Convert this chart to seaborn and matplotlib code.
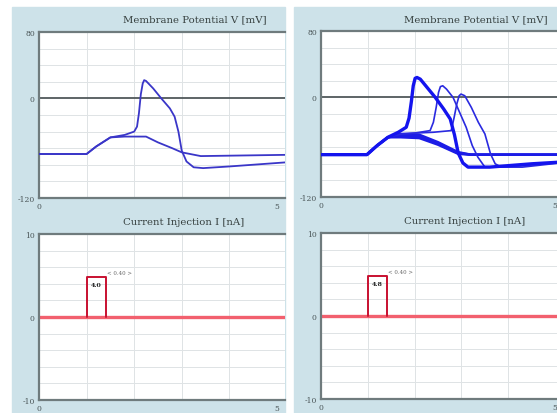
import matplotlib
matplotlib.use('Agg')
import matplotlib.pyplot as plt
import numpy as np
import pandas as pd
import seaborn as sns
from matplotlib.patches import Rectangle

# membrane potential traces, left panel (t in ms, V in mV)
l_spike_t = [0, 1.0, 1.2, 1.5, 1.8, 2.0, 2.06, 2.1, 2.14, 2.18, 2.21, 2.25, 2.4, 2.57, 2.75, 2.85, 2.93, 3.0, 3.1, 3.25, 3.45, 4.0, 5.2]
l_spike_v = [-67, -67, -58, -47, -44, -40, -34, -18, 5, 18, 22, 21, 12, 0, -12, -22, -40, -63, -76, -83, -84, -82, -77]
l_sub_t = [0, 1.0, 1.2, 1.5, 1.8, 2.25, 2.5, 2.8, 3.0, 3.4, 5.2]
l_sub_v = [-67, -67, -58, -47, -46, -46, -53, -60, -65, -69.5, -68]

# right panel: three spikes (A fastest) and a bundle of subthreshold traces
r_a_t = [0, 0.98, 1.2, 1.43, 1.65, 1.82, 1.88, 1.93, 1.97, 2.01, 2.05, 2.12, 2.44, 2.62, 2.76, 2.85, 2.93, 3.03, 3.14, 3.6, 4.5, 5.1]
r_a_v = [-69, -69, -58, -48, -42, -36, -25, -5, 14, 23, 24, 22, 0, -14, -26, -45, -67, -79, -84, -84, -80, -78]
r_b_t = [0, 0.98, 1.2, 1.43, 1.7, 2.0, 2.33, 2.4, 2.46, 2.51, 2.55, 2.6, 2.68, 2.82, 2.96, 3.1, 3.23, 3.35, 3.5, 3.9, 4.6, 5.1]
r_b_v = [-69, -69, -58, -48, -44, -43, -40, -30, -12, 6, 13, 14, 10, 0, -18, -36, -58, -72, -84, -84, -81, -78]
r_c_t = [0, 0.98, 1.2, 1.43, 1.7, 2.0, 2.4, 2.78, 2.84, 2.9, 2.95, 2.99, 3.07, 3.21, 3.36, 3.5, 3.62, 3.72, 3.85, 4.3, 5.1]
r_c_v = [-69, -69, -58, -48, -44, -43, -42, -40, -25, -8, 2, 4, 2, -12, -30, -44, -68, -80, -84, -84, -79]
r_sub_t = [0, 0.98, 1.2, 1.43, 1.7, 2.1, 2.5, 2.93, 3.2, 5.1]
r_sub_v = [
    [-69, -69, -58, -48, -44, -45, -54, -66, -69, -69],
    [-69, -69, -58, -48, -46, -47, -56, -67, -69, -69],
    [-69, -69, -58, -48, -48, -49, -57, -68, -69, -69],
]

# current injection pulse (nA)
pulse_start = 1.0
pulse_width = 0.40
pulse_amp = [4.8, 4.8]
pulse_label = ['4.0', '4.8']

W, H = 557, 414
BG = '#cde2e9'
SPINE = '#6f7b7d'
GRIDC = '#dfe3e5'

sns.set_style('white')
plt.rcParams['font.family'] = ['DejaVu Serif']

fig = plt.figure(figsize=(W / 100, H / 100), dpi=100)
fig.patches.append(Rectangle((12 / W, 0), (285 - 12) / W, 1 - 8 / H, transform=fig.transFigure, color=BG, zorder=-10))
fig.patches.append(Rectangle((294 / W, 0), (W - 294) / W, 1 - 8 / H, transform=fig.transFigure, color=BG, zorder=-10))


def make_ax(x0, y0, x1, y1):
    return fig.add_axes([x0 / W, 1 - y1 / H, (x1 - x0) / W, (y1 - y0) / H])


def style(ax, xmax, ylim, step, yticks):
    ax.set_facecolor('white')
    ax.set_xlim(0, xmax)
    ax.set_ylim(*ylim)
    ax.set_xticks(np.arange(0, xmax, 1.0), minor=True)
    ax.set_yticks(np.arange(ylim[0], ylim[1] + 0.01, step), minor=True)
    ax.grid(True, which='minor', color=GRIDC, lw=0.7)
    ax.set_yticks(yticks)
    ax.set_yticklabels([str(v) for v in yticks])
    ax.set_xticks([0, 5])
    ax.tick_params(axis='both', which='major', length=2, width=0.8, color=SPINE,
                   labelsize=5.5, labelcolor='#4a5557', pad=1)
    ax.tick_params(which='minor', length=0)
    for s in ['left', 'top', 'bottom']:
        ax.spines[s].set_color(SPINE)
        ax.spines[s].set_linewidth(1.6)
    ax.spines['right'].set_visible(False)
    ax.set_xlabel('')
    ax.set_ylabel('')


panels = [
    dict(vbox=(39, 33, 285, 199), ibox=(39, 235, 285, 401), xmax=5.17),
    dict(vbox=(321, 32, 557, 198), ibox=(321, 234, 557, 400), xmax=5.04),
]

for k, p in enumerate(panels):
    axv = make_ax(*p['vbox'])
    axi = make_ax(*p['ibox'])

    axv.axhline(0, color='#50585a', lw=1.3, zorder=2)
    if k == 0:
        sns.lineplot(x=l_sub_t, y=l_sub_v, ax=axv, color='#3a36c8', lw=1.3, sort=False, estimator=None, zorder=3)
        sns.lineplot(x=l_spike_t, y=l_spike_v, ax=axv, color='#3a36c8', lw=1.3, sort=False, estimator=None, zorder=3)
    else:
        for sv in r_sub_v:
            sns.lineplot(x=r_sub_t, y=sv, ax=axv, color='#1c1ce6', lw=1.8, sort=False, estimator=None, zorder=3)
        sns.lineplot(x=r_c_t, y=r_c_v, ax=axv, color='#2a2ae0', lw=1.2, sort=False, estimator=None, zorder=3)
        sns.lineplot(x=r_b_t, y=r_b_v, ax=axv, color='#2a2ae0', lw=1.2, sort=False, estimator=None, zorder=3)
        sns.lineplot(x=r_a_t, y=r_a_v, ax=axv, color='#1414ee', lw=2.4, sort=False, estimator=None, zorder=3)
    style(axv, p['xmax'], (-120, 80), 20, [80, 0, -120])

    # current trace: baseline and pulse
    axi.axhline(0, color='#f2606e', lw=2.4, zorder=2)
    pt = [pulse_start, pulse_start, pulse_start + pulse_width, pulse_start + pulse_width]
    pi = [0, pulse_amp[k], pulse_amp[k], 0]
    sns.lineplot(x=pt, y=pi, ax=axi, color='#c81030', lw=1.4, sort=False, estimator=None, zorder=3)
    axi.text(pulse_start + pulse_width / 2, pulse_amp[k] - 0.55, pulse_label[k], ha='center', va='top',
             fontsize=4.5, fontweight='bold', color='#222222', zorder=4)
    axi.text(pulse_start + pulse_width + 0.03, pulse_amp[k] + 0.6, '< %.2f >' % pulse_width, ha='left', va='center',
             fontsize=4, color='#666666', zorder=4)
    style(axi, p['xmax'], (-10, 10), 2, [10, 0, -10])

fig.text(195 / W, 1 - 20 / H, 'Membrane Potential V [mV]', ha='center', va='center', fontsize=7.3, color='#36403f')
fig.text(476 / W, 1 - 20 / H, 'Membrane Potential V [mV]', ha='center', va='center', fontsize=7.3, color='#36403f')
fig.text(184 / W, 1 - 223 / H, 'Current Injection I [nA]', ha='center', va='center', fontsize=7.3, color='#36403f')
fig.text(465 / W, 1 - 222 / H, 'Current Injection I [nA]', ha='center', va='center', fontsize=7.3, color='#36403f')

fig.savefig('out.png', dpi=100)
